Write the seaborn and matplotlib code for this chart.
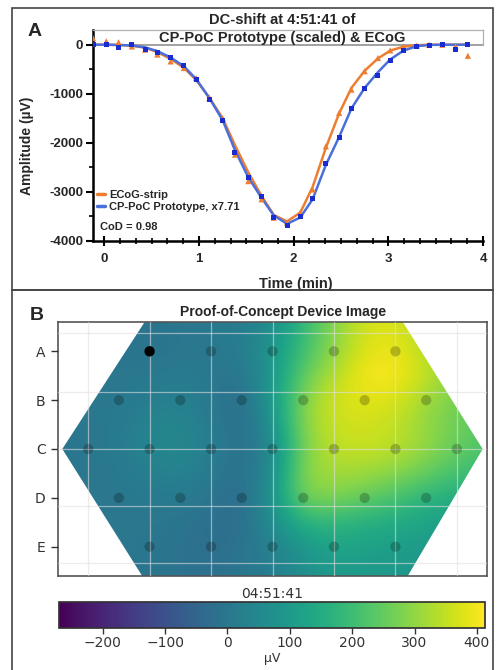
import numpy as np
import pandas as pd
import matplotlib
matplotlib.use("Agg")
import matplotlib.pyplot as plt
import seaborn as sns
from matplotlib.patches import Rectangle, Polygon
from matplotlib.lines import Line2D
from matplotlib.ticker import MultipleLocator

sns.set_theme(style="ticks")
plt.rcParams["font.family"] = ["Liberation Sans", "DejaVu Sans"]

# ---- panel A data ----
time_min = [-0.12, 0.02, 0.15, 0.29, 0.43, 0.56, 0.70, 0.84, 0.97, 1.11,
            1.25, 1.38, 1.52, 1.66, 1.79, 1.93, 2.07, 2.20, 2.34, 2.48,
            2.61, 2.75, 2.89, 3.02, 3.16, 3.30, 3.43, 3.57, 3.71, 3.84]
ecog_pts = [135, 70, 50, -35, -100, -200, -340, -475, -680, -1080,
            -1500, -2240, -2780, -3150, -3525, -3630, -3420, -2950, -2070, -1390,
            -915, -540, -270, -115, -35, -20, 0, 0, -35, -225]
ecog_fit = [0, 0, -5, -20, -60, -150, -290, -470, -720, -1080,
            -1500, -2050, -2600, -3080, -3470, -3600, -3420, -2900, -2100, -1400,
            -880, -530, -280, -120, -40, -10, 0, 0, 0, 0]
poc_pts = [0, 0, -55, 0, -90, -155, -270, -430, -710, -1120,
           -1540, -2190, -2710, -3085, -3525, -3680, -3505, -3140, -2430, -1885,
           -1290, -900, -630, -325, -115, -35, -20, 0, -100, 0]
poc_fit = [0, 0, -5, -15, -55, -130, -260, -440, -700, -1090,
           -1540, -2150, -2700, -3120, -3480, -3650, -3520, -3150, -2450, -1880,
           -1300, -880, -560, -300, -120, -30, -5, 0, 0, 0]
ecog_label = "ECoG-strip"
poc_label = "CP-PoC Prototype, x7.71"
cod_text = "CoD = 0.98"

# ---- panel B data ----
grid_x = [-0.5, 0, 0.5, 1, 1.5, 2, 2.5, 3, 3.5, 4, 4.5, 5, 5.5, 6, 6.5]
grid_y = [-0.5, 0, 0.5, 1, 1.5, 2, 2.5, 3, 3.5, 4, 4.5]
heat_uv = [
    [-5, -5, -5, -10, 0, 5, 15, 60, 190, 290, 370, 380, 320, 260, 220],
    [-5, -5, -5, -10, 0, 5, 15, 90, 210, 300, 385, 395, 340, 280, 240],
    [0, 0, 0, 5, 15, 0, -5, 90, 250, 340, 405, 410, 350, 290, 250],
    [0, 0, 5, 20, 30, 5, -30, 100, 290, 370, 385, 375, 310, 270, 240],
    [-5, 0, 10, 40, 45, 15, -30, 70, 300, 360, 365, 350, 300, 260, 230],
    [-5, 0, 10, 40, 50, 20, -20, 40, 280, 350, 355, 345, 300, 250, 220],
    [-5, 0, 5, 25, 35, 10, -25, 60, 300, 320, 310, 290, 250, 210, 180],
    [0, 0, 0, 10, 10, -5, -30, 80, 280, 280, 250, 215, 170, 150, 140],
    [0, 0, 0, 0, -5, -20, -25, 60, 170, 180, 160, 145, 125, 110, 100],
    [5, 5, 0, 0, -10, -25, -10, 30, 90, 130, 120, 110, 100, 90, 90],
    [5, 5, 0, -5, -10, -15, 0, 20, 70, 100, 100, 90, 90, 80, 80],
]
row_labels = ["A", "B", "C", "D", "E"]
electrode_cols = [[1, 2, 3, 4, 5],
                  [0.5, 1.5, 2.5, 3.5, 4.5, 5.5],
                  [0, 1, 2, 3, 4, 5, 6],
                  [0.5, 1.5, 2.5, 3.5, 4.5, 5.5],
                  [1, 2, 3, 4, 5]]
cbar_ticks = [-200, -100, 0, 100, 200, 300, 400]
vmin, vmax = -270, 413

W, H = 498, 670
fig = plt.figure(figsize=(W / 100, H / 100), dpi=100)

# panel frames
fig.patches.append(Rectangle((12 / W, 1 - 290 / H), 481 / W, 282 / H, transform=fig.transFigure,
                             fill=False, ec="#444444", lw=1.2))
fig.patches.append(Rectangle((12 / W, -0.01), 481 / W, (1 - 290 / H) + 0.01, transform=fig.transFigure,
                             fill=False, ec="#444444", lw=1.2))

# ================= Panel A =================
axA = fig.add_axes([93 / W, 1 - 241 / H, 390 / W, 211 / H])
df = pd.DataFrame({"t": time_min * 2,
                   "pts": ecog_pts + poc_pts,
                   "fit": ecog_fit + poc_fit,
                   "series": [ecog_label] * len(time_min) + [poc_label] * len(time_min)})
orange, blue_line, blue_mk = "#ed7d31", "#4a6fdc", "#1a2bd0"
axA.axhline(0, color="#9a9a9a", lw=1.3, zorder=0)
sns.lineplot(data=df, x="t", y="fit", hue="series", palette={ecog_label: orange, poc_label: blue_line},
             lw=1.8, legend=False, sort=False, ax=axA, zorder=2)
sns.scatterplot(data=df[df.series == ecog_label], x="t", y="pts", marker="^", color=orange,
                s=20, edgecolor="none", ax=axA, zorder=3)
sns.scatterplot(data=df[df.series == poc_label], x="t", y="pts", marker="s", color=blue_mk,
                s=13, edgecolor="none", ax=axA, zorder=4)
axA.set_xlim(-0.12, 4.0)
axA.set_ylim(-4000, 300)
yt = [0, -1000, -2000, -3000, -4000]
axA.set_yticks(yt, [str(v) for v in yt])
axA.yaxis.set_minor_locator(MultipleLocator(500))
axA.set_xticks([0, 1, 2, 3, 4], ["0", "1", "2", "3", "4"])
axA.xaxis.set_minor_locator(MultipleLocator(1 / 6))
for lbl in axA.get_xticklabels() + axA.get_yticklabels():
    lbl.set_fontweight("bold")
axA.tick_params(axis="y", which="major", direction="out", length=5, width=1.5, labelsize=9.5, pad=2, color="black")
axA.tick_params(axis="y", which="minor", direction="out", length=3, width=1.2, color="black")
axA.tick_params(axis="x", which="major", direction="inout", length=7, width=1.5, labelsize=9.5, pad=5, color="black")
axA.tick_params(axis="x", which="minor", direction="inout", length=4, width=1.2, color="black")
for side in ["left", "bottom"]:
    axA.spines[side].set_color("black")
    axA.spines[side].set_linewidth(1.8)
axA.spines["top"].set_color("#b0b0b0")
axA.spines["top"].set_linewidth(0.9)
axA.spines["right"].set_color("#b0b0b0")
axA.spines["right"].set_linewidth(0.9)
axA.spines["right"].set_bounds(0, 300)
axA.set_xlabel("Time (min)", fontsize=10.5, fontweight="bold")
axA.set_ylabel("Amplitude (µV)", fontsize=10, fontweight="bold")
axA.xaxis.set_label_coords(0.52, -0.17)
axA.yaxis.set_label_coords(-0.15, 0.45)

handles = [Line2D([], [], color=orange, lw=2.5), Line2D([], [], color=blue_line, lw=2.5)]
axA.legend(handles, [ecog_label, poc_label], loc="upper left", bbox_to_anchor=(-0.005, 0.27),
           frameon=False, handlelength=0.8, handletextpad=0.3, labelspacing=0.25, borderpad=0,
           prop={"size": 8, "weight": "bold"})
axA.text(0.018, 0.066, cod_text, transform=axA.transAxes, fontsize=8, fontweight="bold", va="center")

fig.text(282 / W, 1 - 20 / H, "DC-shift at 4:51:41 of", ha="center", va="center", fontsize=10.5, fontweight="bold")
fig.text(282 / W, 1 - 38 / H, "CP-PoC Prototype (scaled) & ECoG", ha="center", va="center", fontsize=10.5, fontweight="bold")
fig.text(35 / W, 1 - 32 / H, "A", ha="center", va="center", fontsize=14, fontweight="bold")

# ================= Panel B =================
axB = fig.add_axes([58 / W, 94 / H, 429 / W, 254 / H])
dx = (grid_x[1] - grid_x[0]) / 2
dy = (grid_y[1] - grid_y[0]) / 2
im = axB.imshow(np.array(heat_uv), cmap="viridis", vmin=vmin, vmax=vmax,
                extent=(grid_x[0] - dx, grid_x[-1] + dx, grid_y[-1] + dy, grid_y[0] - dy),
                interpolation="bicubic", aspect="auto", zorder=1)
hexagon = Polygon([(0.92, -0.6), (5.12, -0.6), (6.42, 2.0), (5.2, 4.6), (0.88, 4.6), (-0.42, 2.0)],
                  closed=True, transform=axB.transData, fc="none", ec="none")
axB.add_patch(hexagon)
im.set_clip_path(hexagon)
axB.set_xlim(-0.49, 6.49)
axB.set_ylim(4.6, -0.6)

# electrodes
ex, ey = [], []
for r, cols in enumerate(electrode_cols):
    ex += cols
    ey += [r] * len(cols)
edf = pd.DataFrame({"x": ex, "y": ey})
sns.scatterplot(data=edf, x="x", y="y", color="black", alpha=0.22, s=55, edgecolor="none", ax=axB, zorder=4)
sns.scatterplot(x=[electrode_cols[0][0]], y=[0], color="black", s=55, edgecolor="none", ax=axB, zorder=5)

axB.set_xticks(range(7))
axB.grid(axis="x", color="#e0e0e0", alpha=0.6, lw=0.9)
axB.grid(axis="y", visible=False)
axB.set_axisbelow(False)
for yv in [-0.37, 0.84, 2.0, 3.16, 4.33]:
    axB.axhline(yv, color="#e0e0e0", alpha=0.6, lw=0.9, zorder=2.6)
axB.tick_params(axis="x", length=0, labelbottom=False)
axB.set_yticks(range(5), row_labels)
axB.tick_params(axis="y", left=True, length=5, width=1, color="#333333", labelsize=10, labelcolor="#333333", pad=4)
for lbl in axB.get_yticklabels():
    lbl.set_fontfamily("DejaVu Sans")
axB.set_xlabel("")
axB.set_ylabel("")
for sp in axB.spines.values():
    sp.set_color("#555555")
    sp.set_linewidth(1.2)

fig.text(283 / W, 1 - 312 / H, "Proof-of-Concept Device Image", ha="center", va="center",
         fontsize=10, fontweight="bold")
fig.text(37 / W, 1 - 315 / H, "B", ha="center", va="center", fontsize=14, fontweight="bold")

cax = fig.add_axes([59 / W, 42 / H, 426 / W, 26 / H])
cb = fig.colorbar(im, cax=cax, orientation="horizontal")
cb.set_ticks(cbar_ticks)
cb.outline.set_edgecolor("#333333")
cax.tick_params(axis="x", bottom=True, length=4, width=1, color="#333333", labelsize=10, labelcolor="#333333", pad=2)
for lbl in cax.get_xticklabels():
    lbl.set_fontfamily("DejaVu Sans")
cax.set_title("04:51:41", fontsize=10, color="#333333", family="DejaVu Sans", pad=3)
cb.set_label("µV", fontsize=9, color="#333333", family="DejaVu Sans", labelpad=1)

fig.savefig("out.png", dpi=100)
